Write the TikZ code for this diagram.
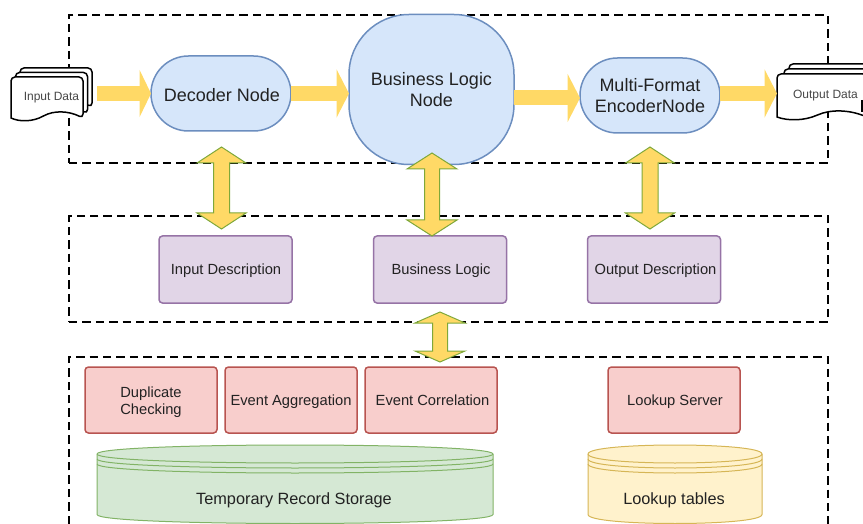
\documentclass[tikz,border=0pt]{standalone}
\usepackage{fontspec}
\setmainfont{Liberation Sans}
\usetikzlibrary{arrows.meta,calc}
\definecolor{blueF}{HTML}{D6E6FA}\definecolor{blueS}{HTML}{6C8EBF}
\definecolor{purpF}{HTML}{E1D5E7}\definecolor{purpS}{HTML}{9673A6}
\definecolor{redF}{HTML}{F8CECC}\definecolor{redS}{HTML}{B85450}
\definecolor{grnF}{HTML}{D5E8D4}\definecolor{grnS}{HTML}{82B366}
\definecolor{ylwF}{HTML}{FFF2CC}\definecolor{ylwS}{HTML}{D6B656}
\definecolor{arrF}{HTML}{FFD966}\definecolor{arrS}{HTML}{7FA83A}
\definecolor{ink}{HTML}{222222}
\newcommand{\lift}[1]{\rule{0pt}{#1}}
\tikzset{
  every node/.style={outer sep=0pt,inner sep=0pt,text=ink,align=center},
  region/.style={draw=black,line width=2.4pt,dash pattern=on 8.4pt off 5pt},
  flownode/.style={draw=blueS,fill=blueF,line width=1.5pt,font=\fontsize{18}{21}\selectfont},
  descbox/.style={draw=purpS,fill=purpF,line width=1.5pt,rounded corners=3.5pt,minimum width=133pt,minimum height=67pt,font=\fontsize{14.7}{17}\selectfont},
  procbox/.style={draw=redS,fill=redF,line width=1.5pt,rounded corners=3.5pt,minimum width=132pt,minimum height=66pt,font=\fontsize{14.7}{17}\selectfont},
  doctext/.style={text=black!72,font=\fontsize{12}{14}\selectfont},
  storetext/.style={font=\fontsize{16.3}{19}\selectfont},
  docline/.style={draw=black,fill=white,line width=1.5pt},
  flowarrow/.style={draw=arrF,line width=14.5pt,-{Triangle[length=11.5pt,width=47pt]}},
  bigarrow/.style={draw=arrF,line width=15pt,-{Triangle[length=12.5pt,width=48pt]}},
  dblarrow/.style={draw=arrS,fill=arrF,line width=1pt,line join=miter},
}
% #1 x, #2 y, #3 w, #4 h
\newcommand{\docpage}[4]{%
  \draw[docline,rounded corners=4pt] (#1,{#2+#4}) -- (#1,#2) -- ({#1+#3},#2) -- ({#1+#3},{#2+#4}) [sharp corners]
    .. controls ({#1+.8*#3},{#2+#4-7}) and ({#1+.6*#3},{#2+#4-8}) .. ({#1+.45*#3},{#2+#4-2})
    .. controls ({#1+.3*#3},{#2+#4+4}) and ({#1+.12*#3},{#2+#4+4}) .. (#1,{#2+#4}) -- cycle;}
% #1 x0, #2 x1, #3 top, #4 fill, #5 stroke
\newcommand{\drum}[5]{%
  \draw[fill=#4,draw=#5,line width=1pt] (#1,{#3+9}) .. controls (#1,{#3-3}) and (#2,{#3-3}) .. (#2,{#3+9})
     -- (#2,{#3+69.5}) .. controls (#2,{#3+81.5}) and (#1,{#3+81.5}) .. (#1,{#3+69.5}) -- cycle;
  \draw[draw=#5,line width=1pt] (#1,{#3+9}) .. controls (#1,{#3+21}) and (#2,{#3+21}) .. (#2,{#3+9});
  \draw[draw=#5,line width=1pt] (#1,{#3+14}) .. controls (#1,{#3+26}) and (#2,{#3+26}) .. (#2,{#3+14});
  \draw[draw=#5,line width=1pt] (#1,{#3+19}) .. controls (#1,{#3+31}) and (#2,{#3+31}) .. (#2,{#3+19});}
% #1 top tip, #2 bottom tip, #3 head half-width, #4 head length, #5 shaft half-width
\newcommand{\twoway}[5]{%
  \draw[dblarrow] (#1) -- ($(#1)+(#3,#4)$) -- ($(#1)+(#5,#4)$) -- ($(#2)+(#5,-#4)$) -- ($(#2)+(#3,-#4)$) -- (#2)
    -- ($(#2)+(-#3,-#4)$) -- ($(#2)+(-#5,-#4)$) -- ($(#1)+(-#5,#4)$) -- ($(#1)+(-#3,#4)$) -- cycle;}
\begin{document}
\begin{tikzpicture}[x=1pt,y=-1pt]
\useasboundingbox (0,0) rectangle (863,524);
% regions
\node[region,minimum width=759pt,minimum height=148pt,anchor=north west] (topregion) at (69,15) {};
\node[region,minimum width=759pt,minimum height=106pt,anchor=north west] (midregion) at (69,216) {};
\draw[region] (69,524) -- (69,357) -- (828,357) -- (828,524);
% flow nodes
\node[flownode,rounded corners=37.5pt,minimum width=140pt,minimum height=75pt] (dec) at (221,93.5) {\hspace*{2pt}\lift{16.5pt}Decoder Node};
\node[flownode,rounded corners=60pt,minimum width=165pt,minimum height=150pt] (biz) at (431.5,89.5) {Business Logic\\Node};
\node[flownode,rounded corners=37.5pt,minimum width=140pt,minimum height=75pt] (enc) at (650,95.5) {Multi-Format\\EncoderNode};
% documents
\docpage{20}{68}{72}{39}
\docpage{15.5}{72.5}{72}{41}
\docpage{11}{77}{72}{41}
\node[doctext,minimum width=81pt] (inp) at (51.5,98) {Input Data};
\docpage{789}{64}{90}{40}
\docpage{784}{69}{90}{40}
\docpage{777}{74}{90}{43}
\draw[black,line width=1.5pt] (862,100) -- (862,112);
\node[doctext,minimum width=97pt] (outp) at (825.5,95.5) {Output Data};
% descriptions
\node[descbox] (idesc) at (225.5,269.5) {\hspace*{1pt}\lift{12.5pt}Input Description};
\node[descbox] (bdesc) at (440,269.5) {\hspace*{2pt}\lift{12.5pt}Business Logic};
\node[descbox] (odesc) at (654,269.5) {\hspace*{3pt}\lift{12.5pt}Output Description};
% processing
\node[procbox] (dup) at (151,400) {\lift{15pt}Duplicate\\Checking};
\node[procbox] (agg) at (291,400) {\lift{15pt}Event Aggregation};
\node[procbox] (cor) at (431,400) {\hspace*{3pt}Event Correlation};
\node[procbox] (lkp) at (674,400) {\hspace*{2pt}\lift{15pt}Lookup Server};
% stores
\drum{97}{493}{445}{grnF}{grnS}
\drum{588}{762}{445}{ylwF}{ylwS}
\node[storetext] (tmp) at (294,500) {Temporary Record Storage};
\node[storetext] (tbl) at (674,500) {Lookup tables};
% horizontal connectors
\coordinate (a1) at ($(inp.east |- dec.west)+(5,0)$);
\draw[flowarrow] (a1) -- (dec.west);
\coordinate (b1) at (dec.east);
\draw[bigarrow] (b1) -- (b1 -| biz.west);
\coordinate (c1) at ($(biz.east)+(0,8.5)$);
\draw[bigarrow] (c1) -- (c1 -| enc.west);
\coordinate (d1) at ($(enc.east)+(0,-2)$);
\draw[bigarrow] (d1) -- (d1 -| outp.west);
% two-way connectors
\coordinate (t1) at ($(dec.south)+(0.5,16)$);
\coordinate (u1) at ($(t1 |- idesc.north)+(0,-7)$);
\twoway{t1}{u1}{24.5}{16}{8}
\coordinate (t2) at ($(biz.south)+(0.5,-11.5)$);
\coordinate (u2) at ($(t2 |- bdesc.north)+(0,0)$);
\twoway{t2}{u2}{25}{16}{7.5}
\coordinate (t3) at ($(enc.south)+(0,14)$);
\coordinate (u3) at ($(t3 |- odesc.north)+(0,-7)$);
\twoway{t3}{u3}{24.5}{16}{8}
\coordinate (t4) at ($(bdesc.south)+(0,9)$);
\coordinate (u4) at ($(t4 |- cor.north)+(0,-5)$);
\twoway{t4}{u4}{25}{11}{7.5}
\end{tikzpicture}
\end{document}
